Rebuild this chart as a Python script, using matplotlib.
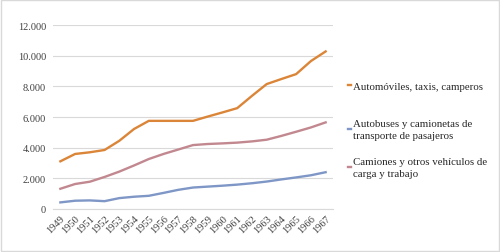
import matplotlib
matplotlib.use("Agg")
import matplotlib.pyplot as plt
from matplotlib.patches import Rectangle
from matplotlib.ticker import FuncFormatter

years = ["1949", "1950", "1951", "1952", "1953", "1954", "1955", "1956", "1957", "1958",
         "1959", "1960", "1961", "1962", "1963", "1964", "1965", "1966", "1967"]
automoviles = [3110, 3590, 3700, 3850, 4450, 5220, 5750, 5750, 5750, 5750,
               6030, 6300, 6580, 7380, 8150, 8480, 8800, 9650, 10280]
autobuses = [430, 540, 560, 510, 710, 800, 860, 1050, 1250, 1400,
             1460, 1520, 1590, 1680, 1790, 1930, 2060, 2200, 2400]
camiones = [1320, 1630, 1780, 2090, 2440, 2840, 3260, 3590, 3880, 4170,
            4240, 4280, 4330, 4410, 4520, 4770, 5040, 5320, 5650]
labels = ["Automóviles, taxis, camperos",
          "Autobuses y camionetas de\ntransporte de pasajeros",
          "Camiones y otros vehículos de\ncarga y trabajo"]
colors = ["#DB8538", "#7F97C6", "#C28890"]
yticks = [0, 2000, 4000, 6000, 8000, 10000, 12000]

plt.rcParams['font.family'] = ['Liberation Serif', 'DejaVu Serif']

fig = plt.figure(figsize=(5.0, 2.53), dpi=100)
fig.patches.append(Rectangle((0.002, 0.004), 0.996, 0.992, transform=fig.transFigure,
                             fill=False, edgecolor="#D9D9D9", linewidth=1.0))
ax = fig.add_axes([0.106, 0.17, 0.56, 0.727])

x = list(range(len(years)))
lines = []
for vals, lab, col in zip([automoviles, autobuses, camiones], labels, colors):
    ln, = ax.plot(x, vals, color=col, linewidth=1.7, label=lab, solid_joinstyle="round")
    lines.append(ln)

ax.set_xlim(-0.5, len(years) - 0.5)
ax.set_ylim(0, 12000)
ax.set_yticks(yticks)
ax.yaxis.set_major_formatter(FuncFormatter(lambda v, p: f"{int(v):,}".replace(",", ".")))
ax.set_xticks(x)
ax.set_xticklabels(years, rotation=45, ha="right", va="top", rotation_mode="anchor")
ax.tick_params(axis="both", length=0, labelsize=7.5, colors="#404040")
ax.tick_params(axis="y", pad=5)
ax.tick_params(axis="x", pad=3)
ax.grid(axis="y", color="#D9D9D9", linewidth=0.8)
ax.set_axisbelow(True)
for s in ["top", "right", "left"]:
    ax.spines[s].set_visible(False)
ax.spines["bottom"].set_color("#D9D9D9")
ax.spines["bottom"].set_linewidth(0.8)

legend_y = [0.656, 0.484, 0.334]
for ln, ypos in zip(lines, legend_y):
    leg = fig.legend(handles=[ln], loc="center left", bbox_to_anchor=(0.695, ypos),
                     frameon=False, fontsize=7.8, handlelength=0.35, handletextpad=0.15,
                     borderpad=0, borderaxespad=0)
    for t in leg.get_texts():
        t.set_color("#262626")
        t.set_linespacing(1.45)

fig.savefig("out.png", dpi=100)
